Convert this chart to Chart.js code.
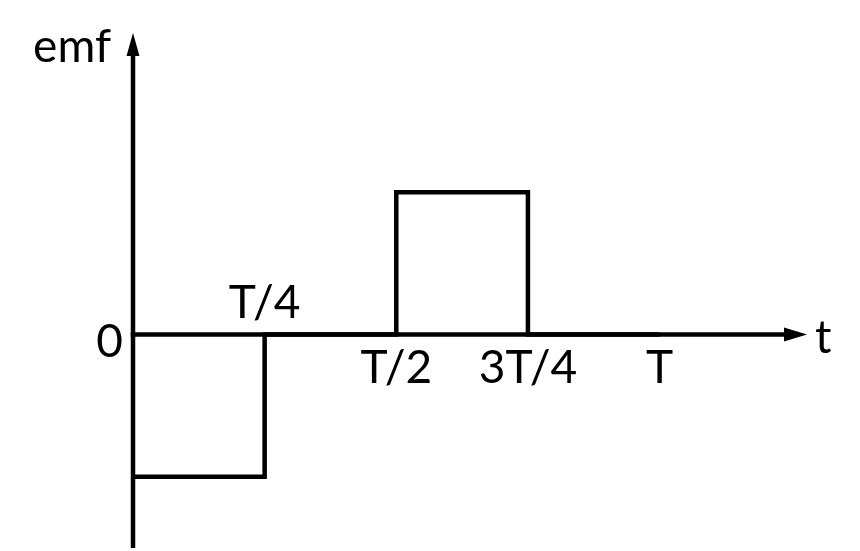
<!DOCTYPE html>
<html>
<head>
<meta charset="utf-8">
<script src="https://cdn.jsdelivr.net/npm/chart.js@4/dist/chart.umd.min.js"></script>
<style>
  html, body { margin: 0; padding: 0; background: #fff; }
  canvas { display: block; }
</style>
</head>
<body>
<canvas id="c" width="860" height="551"></canvas>
<script>
// ---- data ----
const stepTimes = [0, 0.25, 0.5, 0.75, 1];      // in units of T
const emfValues = [-1, 0, 1, 0, 0];              // emf level starting at each time
const tickValues = [0.25, 0.5, 0.75, 1];
const tickLabels = ['T/4', 'T/2', '3T/4', 'T'];
const tickAbove = [true, false, false, false];
const yTickValues = [0];
const yTickLabels = ['0'];
const xAxisTitle = 't';
const yAxisTitle = 'emf';

const FONT = 'Lato, "Open Sans", sans-serif';

const axesPlugin = {
  id: 'arrowAxes',
  afterDatasetsDraw(chart) {
    const ctx = chart.ctx;
    const xs = chart.scales.x, ys = chart.scales.y;
    const x0 = xs.getPixelForValue(0);
    const y0 = ys.getPixelForValue(0);
    const area = chart.chartArea;
    ctx.save();
    ctx.strokeStyle = '#000';
    ctx.fillStyle = '#000';
    ctx.lineWidth = 4.5;
    ctx.lineCap = 'butt';
    // y axis
    const headLenY = 23, headHalfY = 6.5;
    ctx.beginPath();
    ctx.moveTo(x0, ys.getPixelForValue(ys.min));
    ctx.lineTo(x0, area.top + headLenY - 1);
    ctx.stroke();
    ctx.beginPath();
    ctx.moveTo(x0, area.top);
    ctx.lineTo(x0 - headHalfY, area.top + headLenY);
    ctx.lineTo(x0 + headHalfY, area.top + headLenY);
    ctx.closePath();
    ctx.fill();
    // x axis
    const headLenX = 23, headHalfX = 7;
    const xr = xs.getPixelForValue(xs.max);
    ctx.beginPath();
    ctx.moveTo(x0 - 2.25, y0);
    ctx.lineTo(xr - headLenX + 1, y0);
    ctx.stroke();
    ctx.beginPath();
    ctx.moveTo(xr, y0);
    ctx.lineTo(xr - headLenX, y0 - headHalfX);
    ctx.lineTo(xr - headLenX, y0 + headHalfX);
    ctx.closePath();
    ctx.fill();

    // x tick labels
    ctx.font = '46px ' + FONT;
    ctx.textAlign = 'center';
    ctx.textBaseline = 'alphabetic';
    tickValues.forEach((v, i) => {
      const px = xs.getPixelForValue(v);
      const py = tickAbove[i] ? y0 - 17 : y0 + 48;
      ctx.fillText(tickLabels[i], px, py);
    });
    // y tick labels
    ctx.textAlign = 'right';
    yTickValues.forEach((v, i) => {
      ctx.fillText(yTickLabels[i], x0 - 10, ys.getPixelForValue(v) + 22);
    });
    // axis titles
    ctx.textAlign = 'left';
    ctx.fillText(xAxisTitle, xr + 8, y0 + 18);
    ctx.font = '46px ' + FONT;
    ctx.textAlign = 'right';
    ctx.fillText(yAxisTitle, x0 - 22, area.top + 29);
    ctx.restore();
  }
};

new Chart(document.getElementById('c'), {
  type: 'line',
  data: {
    datasets: [{
      data: stepTimes.map((t, i) => ({ x: t, y: emfValues[i] })),
      stepped: 'before',
      borderColor: '#000',
      borderWidth: 4.5,
      pointRadius: 0,
      fill: false,
      borderCapStyle: 'butt',
      borderJoinStyle: 'miter'
    }]
  },
  options: {
    responsive: false,
    animation: false,
    devicePixelRatio: 1,
    layout: { padding: { left: 133, right: 53, top: 33, bottom: 3 } },
    plugins: { legend: { display: false }, tooltip: { enabled: false } },
    scales: {
      x: { type: 'linear', min: 0, max: 1.28, display: false },
      y: { type: 'linear', min: -1.5, max: 2.12, display: false }
    }
  },
  plugins: [axesPlugin]
});
</script>
</body>
</html>
